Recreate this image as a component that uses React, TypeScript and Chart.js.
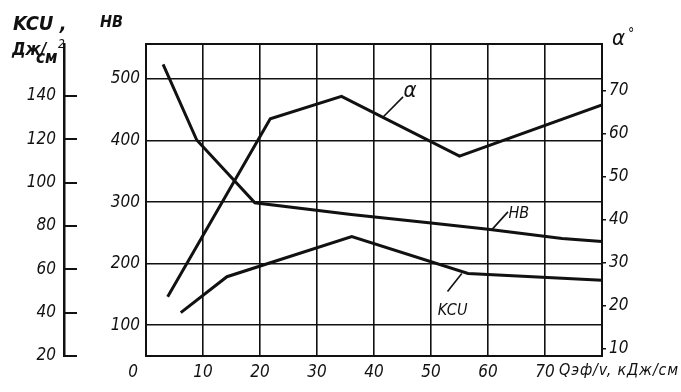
import React, { useEffect, useRef } from 'react';
import { Chart, registerables } from 'chart.js';

Chart.register(...registerables);

// HB curve (left inner axis)
const hbX = [3.0, 8.9, 19.1, 36, 50, 60, 73, 80];
const hbY = [524, 401, 299, 280, 266, 256, 241, 236];
// alpha curve (right axis, degrees)
const alphaX = [3.8, 21.8, 34.3, 55.0, 80];
const alphaY = [22.0, 63.4, 68.6, 54.7, 66.6];
// KCU curve (left outer axis, J/cm2)
const kcuX = [6.1, 14.2, 36.1, 56.5, 80];
const kcuY = [40, 56.6, 75.1, 58.1, 55];

const xTicks = [0, 10, 20, 30, 40, 50, 60, 70, 80];
const kcuTicks = [20, 40, 60, 80, 100, 120, 140];
const hbTicks = [100, 200, 300, 400, 500];
const alphaTicks = [10, 20, 30, 40, 50, 60, 70];

const FONT = '"Liberation Sans Narrow", "DejaVu Sans Condensed", "Liberation Sans", sans-serif';
const INK = '#111';

export default function App() {
  const ref = useRef<HTMLCanvasElement>(null);

  useEffect(() => {
    document.body.style.margin = '0';
    const canvas = ref.current!;
    const pts = (xs: number[], ys: number[]) => xs.map((x, i) => ({ x, y: ys[i] }));
    const setTicks = (vals: number[]) => (s: any) => {
      s.ticks = vals.map((v) => ({ value: v }));
    };

    const annot = {
      id: 'annot',
      afterDraw(chart: any) {
        const ctx = chart.ctx as CanvasRenderingContext2D;
        const { chartArea: a, scales } = chart;
        const px = (x: number, y: number, axis: string) => [
          scales.x.getPixelForValue(x),
          scales[axis].getPixelForValue(y),
        ];
        ctx.save();
        ctx.strokeStyle = INK;
        ctx.fillStyle = INK;
        // plot frame
        ctx.lineWidth = 2;
        ctx.strokeRect(a.left, a.top, a.right - a.left, a.bottom - a.top);

        // callouts
        const callout = (p1: number[], p2: number[], text: string, t: number[], size: number) => {
          ctx.lineWidth = 1.6;
          ctx.beginPath();
          ctx.moveTo(p1[0], p1[1]);
          ctx.lineTo(p2[0], p2[1]);
          ctx.stroke();
          ctx.font = `italic ${size}px ${FONT}`;
          ctx.textAlign = 'center';
          ctx.textBaseline = 'middle';
          ctx.fillText(text, t[0], t[1]);
        };
        callout(px(41.6, 63.8, 'alpha'), px(45.1, 68.5, 'alpha'), 'α', px(46.3, 69.8, 'alpha'), 22);
        callout(px(60.6, 254.5, 'hb'), px(63.5, 284.2, 'hb'), 'HB', px(65.4, 281, 'hb'), 16);
        callout(px(52.9, 49.8, 'kcu'), px(55.4, 58.1, 'kcu'), 'KCU', px(53.8, 40.8, 'kcu'), 16);

        // axis titles
        ctx.textAlign = 'left';
        ctx.textBaseline = 'alphabetic';
        ctx.font = `italic bold 20px ${FONT}`;
        ctx.fillText('KCU ,', 13, 30);
        ctx.font = `italic bold 17px ${FONT}`;
        ctx.fillText('Дж/', 12, 55);
        ctx.fillText('см', 36, 63);
        ctx.font = `italic 12px ${FONT}`;
        ctx.fillText('2', 58, 48);
        ctx.font = `italic bold 16px ${FONT}`;
        ctx.fillText('HB', 100, 27);
        ctx.font = `italic 22px ${FONT}`;
        ctx.fillText('α', 612, 45);
        ctx.font = `italic 14px ${FONT}`;
        ctx.fillText('°', 628, 38);

        // origin label and x title
        ctx.font = `italic 17px ${FONT}`;
        ctx.textAlign = 'center';
        ctx.fillText('0', a.left - 13, 377);
        ctx.textAlign = 'left';
        const title = 'Qэф/v, кДж/см';
        ctx.font = `italic 16px ${FONT}`;
        const w = ctx.measureText(title).width;
        (ctx as any).letterSpacing = `${Math.max(0, (120 - w) / title.length)}px`;
        ctx.fillText(title, 559, 375);
        ctx.restore();
      },
    };

    const tickFont = { family: FONT, size: 17, style: 'italic' as const };
    const line = { borderColor: INK, borderWidth: 3, pointRadius: 0, tension: 0, fill: false };

    const chart = new Chart(canvas, {
      type: 'line',
      data: {
        datasets: [
          { label: 'HB', data: pts(hbX, hbY), yAxisID: 'hb', ...line },
          { label: 'α', data: pts(alphaX, alphaY), yAxisID: 'alpha', ...line },
          { label: 'KCU', data: pts(kcuX, kcuY), yAxisID: 'kcu', ...line },
        ],
      },
      options: {
        responsive: false,
        animation: false,
        devicePixelRatio: 1,
        layout: { padding: { top: 44, left: 0, right: 0, bottom: 0 } },
        plugins: { legend: { display: false }, tooltip: { enabled: false } },
        scales: {
          x: {
            type: 'linear',
            min: 0,
            max: 80,
            afterBuildTicks: setTicks(xTicks),
            afterFit: (s: any) => { s.height = 36; },
            grid: { color: INK, lineWidth: 1.6, drawTicks: false },
            border: { display: true, color: INK, width: 2 },
            ticks: {
              padding: 6,
              color: INK,
              font: tickFont,
              maxRotation: 0,
              callback: (v: any) => (v === 0 || v === 80 ? '' : String(v)),
            },
          },
          kcu: {
            type: 'linear',
            position: 'left',
            weight: 10,
            min: 20,
            max: 164,
            afterBuildTicks: setTicks(kcuTicks),
            afterFit: (s: any) => { s.width = 64; },
            grid: { drawOnChartArea: false, drawTicks: true, tickLength: -13, color: INK, lineWidth: 2 },
            border: { display: true, color: INK, width: 2.5 },
            ticks: { padding: 21, color: INK, font: tickFont },
          },
          hb: {
            type: 'linear',
            position: 'left',
            weight: 0,
            min: 50,
            max: 557,
            afterBuildTicks: setTicks(hbTicks),
            afterFit: (s: any) => { s.width = 82; },
            grid: { color: INK, lineWidth: 1.6, drawTicks: false },
            border: { display: true, color: INK, width: 2 },
            ticks: { padding: 6, color: INK, font: tickFont },
          },
          alpha: {
            type: 'linear',
            position: 'right',
            min: 8.2,
            max: 80.8,
            afterBuildTicks: setTicks(alphaTicks),
            afterFit: (s: any) => { s.width = 79; },
            grid: { drawOnChartArea: false, drawTicks: true, tickLength: 4, color: INK, lineWidth: 1.5 },
            border: { display: true, color: INK, width: 2 },
            ticks: { padding: 3, color: INK, font: tickFont },
          },
        },
      },
      plugins: [annot],
    });
    return () => chart.destroy();
  }, []);

  return (
    <div style={{ position: 'absolute', left: 0, top: 0, width: 681, height: 392, background: '#fff' }}>
      <canvas ref={ref} width={681} height={392} style={{ display: 'block' }} />
    </div>
  );
}
